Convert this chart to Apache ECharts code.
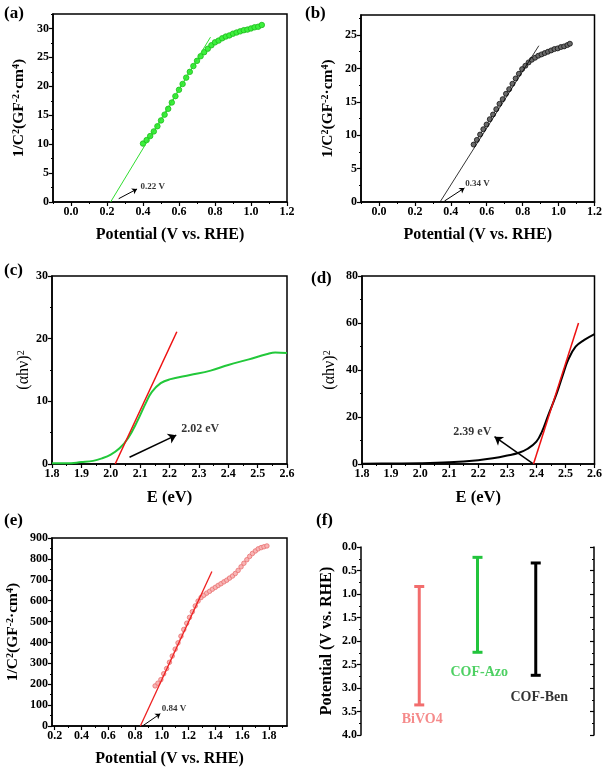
<!DOCTYPE html>
<html><head><meta charset="utf-8">
<script src="https://cdn.jsdelivr.net/npm/echarts@6/dist/echarts.min.js"></script>
<style>html,body{margin:0;padding:0;background:#fff}#c{width:605px;height:772px}</style>
</head><body><div id="c"></div>
<script>
// ---------- DATA ----------
// (a) Mott-Schottky COF-Azo
const aX = [0.40,0.42,0.44,0.46,0.48,0.50,0.52,0.54,0.56,0.58,0.60,0.62,0.64,0.66,0.68,0.70,0.72,0.74,0.76,0.78,0.80,0.82,0.84,0.86,0.88,0.90,0.92,0.94,0.96,0.98,1.00,1.02,1.04,1.06];
const aY = [10.1,10.7,11.4,12.2,13.1,14.1,15.1,16.1,17.2,18.3,19.4,20.4,21.5,22.5,23.5,24.4,25.2,25.9,26.5,27.1,27.6,27.9,28.3,28.6,28.8,29.1,29.3,29.5,29.7,29.8,30.0,30.2,30.3,30.6];
const aFitX = [0.22, 0.775];
const aFitY = [0, 28.5];
// (b) Mott-Schottky COF-Ben
const bX = [0.527,0.545,0.563,0.581,0.599,0.617,0.635,0.653,0.671,0.689,0.707,0.725,0.743,0.761,0.779,0.797,0.815,0.833,0.851,0.869,0.887,0.905,0.923,0.941,0.959,0.977,0.995,1.013,1.031,1.049,1.063];
const bY = [8.6,9.3,10.1,10.9,11.6,12.4,13.1,13.9,14.7,15.4,16.2,16.9,17.7,18.5,19.2,19.9,20.4,20.9,21.3,21.6,21.9,22.1,22.3,22.5,22.7,22.9,23.0,23.2,23.3,23.5,23.7];
const bFitX = [0.34, 0.89];
const bFitY = [0, 23.4];
// (c) Tauc COF-Azo
const cX = [1.80,1.85,1.90,1.94,1.97,2.00,2.03,2.06,2.09,2.12,2.14,2.17,2.20,2.27,2.34,2.40,2.47,2.53,2.56,2.60];
const cY = [0.1,0.1,0.3,0.5,0.9,1.5,2.5,4.2,6.8,9.8,11.5,12.9,13.5,14.2,14.9,15.8,16.7,17.5,17.8,17.7];
const cFitX = [2.015, 2.225];
const cFitY = [0, 21.1];
// (d) Tauc COF-Ben
const dX = [1.80,1.90,2.00,2.10,2.20,2.25,2.30,2.34,2.37,2.40,2.42,2.44,2.47,2.49,2.51,2.535,2.565,2.60];
const dY = [0.1,0.2,0.3,0.7,1.6,2.4,3.6,4.8,6.5,9.5,14.0,20.5,30.0,37.5,44.5,49.9,52.8,55.3];
const dFitX = [2.39, 2.545];
const dFitY = [0, 60];
// (e) Mott-Schottky BiVO4
const eX = [0.950,0.971,0.993,1.014,1.036,1.057,1.078,1.100,1.121,1.143,1.164,1.186,1.207,1.228,1.250,1.271,1.293,1.314,1.335,1.357,1.378,1.400,1.421,1.442,1.464,1.485,1.506,1.528,1.549,1.570,1.592,1.613,1.635,1.656,1.677,1.699,1.720,1.742,1.763,1.785];
const eY = [192,205,222,250,275,305,335,368,398,430,462,492,520,547,575,598,615,626,636,645,655,664,673,681,690,698,708,718,730,745,762,779,796,812,826,838,848,854,858,862];
const eFitX = [0.84, 1.374];
const eFitY = [0, 740];
// (f) band positions
const fNames = ['BiVO4', 'COF-Azo', 'COF-Ben'];
const fPos = [1, 2, 3];
const fCB = [0.84, 0.22, 0.34];
const fVB = [3.36, 2.24, 2.73];
const fLabelX = [1.05, 2.03, 3.06];
const fLabelY = [3.67, 2.67, 3.2];
// annotations
const annText = ['0.22 V', '0.34 V', '2.02 eV', '2.39 eV', '0.84 V'];
const annPos = [[0.386, 2.6], [0.481, 2.74], [2.24, 5.58], [2.245, 13.7], [1.0, 85]];
const arrowFrom = [[0.265, 0.57], [0.365, 0.15], [2.064, 1.07], [2.387, 0.3], [0.859, 1.4]];
const arrowTo = [[0.367, 2.25], [0.476, 2.1], [2.223, 4.6], [2.256, 11.6], [0.989, 59]];
// tick values
const tickXab = [0.0,0.2,0.4,0.6,0.8,1.0,1.2];
const minorXab = [-0.1,0.1,0.3,0.5,0.7,0.9,1.1];
const tickYa = [0,5,10,15,20,25,30];
const minorYa = [2.5,7.5,12.5,17.5,22.5,27.5,32.5];
const tickYb = [0,5,10,15,20,25];
const minorYb = [2.5,7.5,12.5,17.5,22.5,27.5];
const tickXcd = [1.8,1.9,2.0,2.1,2.2,2.3,2.4,2.5,2.6];
const minorXcd = [1.85,1.95,2.05,2.15,2.25,2.35,2.45,2.55];
const tickYc = [0,10,20,30];
const minorYc = [5,15,25];
const tickYd = [0,20,40,60,80];
const minorYd = [10,30,50,70];
const tickXe = [0.2,0.4,0.6,0.8,1.0,1.2,1.4,1.6,1.8];
const minorXe = [0.3,0.5,0.7,0.9,1.1,1.3,1.5,1.7,1.9];
const tickYe = [0,100,200,300,400,500,600,700,800,900];
const minorYe = [50,150,250,350,450,550,650,750,850];
const tickYf = [0.0,0.5,1.0,1.5,2.0,2.5,3.0,3.5,4.0];
const minorYf = [0.25,0.75,1.25,1.75,2.25,2.75,3.25,3.75];

// ---------- BUILD ----------
const FONT = '"Liberation Serif","Times New Roman",serif';
const zip = (xs, ys) => xs.map((x, i) => [x, ys[i]]);
const f1 = v => Number(v).toFixed(1);
const f0 = v => String(Math.round(v));

const grids = [
  {left: 53, top: 14, width: 234, height: 188},
  {left: 361, top: 15, width: 234, height: 187},
  {left: 52, top: 276, width: 235, height: 188},
  {left: 362, top: 276, width: 234, height: 188},
  {left: 52, top: 538, width: 235, height: 188},
  {left: 361, top: 547, width: 233, height: 188, show: false}
].map(g => Object.assign({show: true, borderColor: '#000', borderWidth: 1.5}, g));

const xAxes = [], yAxes = [];
function pair(list, gi, o) {
  const main = {
    gridIndex: gi, type: 'value', min: o.min, max: o.max, inverse: !!o.inverse, position: o.position,
    axisLine: {show: true, onZero: false, lineStyle: {color: '#000', width: 1.5}},
    axisTick: {show: true, inside: !!o.inside, length: 4, customValues: o.major, lineStyle: {color: '#000', width: 1.2}},
    axisLabel: {show: o.labels !== false, customValues: o.major, formatter: o.fmt, fontFamily: FONT, fontWeight: 'bold', fontSize: 12, color: '#000', margin: 4},
    splitLine: {show: false},
    name: o.name || '', nameLocation: 'middle', nameGap: o.gap || 0,
    nameTextStyle: Object.assign({fontFamily: FONT, fontWeight: 'bold', fontSize: 16, color: '#000'}, o.nameStyle || {})
  };
  const minor = {
    gridIndex: gi, type: 'value', min: o.min, max: o.max, inverse: !!o.inverse, position: o.position,
    axisLine: {show: false, onZero: false},
    axisTick: {show: true, inside: !!o.inside, length: 2, customValues: o.minor, lineStyle: {color: '#000', width: 1}},
    axisLabel: {show: false}, splitLine: {show: false}
  };
  list.push(main, minor);
}
const supRich = {sup: {fontFamily: FONT, fontWeight: 'bold', fontSize: 10, verticalAlign: 'top', color: '#000'}};
const msName = '1/C{sup|2}(GF{sup|-2}·cm{sup|4})';
const msStyle = {fontSize: 15.5, rich: supRich};
const taucName = '(αhν){sup|2}';
const taucStyle = {fontWeight: 'normal', fontSize: 16, rich: {sup: {fontFamily: FONT, fontSize: 10, verticalAlign: 'top', color: '#000'}}};

// panel a
pair(xAxes, 0, {min: -0.1, max: 1.2, major: tickXab, minor: minorXab, fmt: f1, position: 'bottom', name: 'Potential (V vs. RHE)', gap: 25});
pair(yAxes, 0, {min: 0, max: 32.5, major: tickYa, minor: minorYa, fmt: f0, position: 'left', name: msName, gap: 26, nameStyle: msStyle});
// panel b
pair(xAxes, 1, {min: -0.1, max: 1.2, major: tickXab, minor: minorXab, fmt: f1, position: 'bottom', name: 'Potential (V vs. RHE)', gap: 25});
pair(yAxes, 1, {min: 0, max: 28, major: tickYb, minor: minorYb, fmt: f0, position: 'left', name: msName, gap: 25, nameStyle: msStyle});
// panel c
pair(xAxes, 2, {min: 1.8, max: 2.6, major: tickXcd, minor: minorXcd, fmt: f1, position: 'bottom', name: 'E (eV)', gap: 25, nameStyle: {fontSize: 16.5}});
pair(yAxes, 2, {min: 0, max: 30, major: tickYc, minor: minorYc, fmt: f0, position: 'left', name: taucName, gap: 20, nameStyle: taucStyle});
// panel d
pair(xAxes, 3, {min: 1.8, max: 2.6, major: tickXcd, minor: minorXcd, fmt: f1, position: 'bottom', name: 'E (eV)', gap: 25, nameStyle: {fontSize: 16.5}});
pair(yAxes, 3, {min: 0, max: 80, major: tickYd, minor: minorYd, fmt: f0, position: 'left', name: taucName, gap: 24, nameStyle: taucStyle});
// panel e
pair(xAxes, 4, {min: 0.18, max: 1.935, major: tickXe, minor: minorXe, fmt: f1, position: 'bottom', name: 'Potential (V vs. RHE)', gap: 25});
pair(yAxes, 4, {min: 0, max: 900, major: tickYe, minor: minorYe, fmt: f0, position: 'left', name: msName, gap: 31, nameStyle: msStyle});
// panel f
xAxes.push({gridIndex: 5, type: 'value', min: 0, max: 4, show: false});
xAxes.push({gridIndex: 5, type: 'value', min: 0, max: 4, show: false});
pair(yAxes, 5, {min: 0, max: 4, inverse: true, major: tickYf, minor: minorYf, fmt: f1, position: 'left', name: 'Potential (V vs. RHE)', gap: 26});
pair(yAxes, 5, {min: 0, max: 4, inverse: true, major: tickYf, minor: minorYf, fmt: f1, position: 'right', labels: false, inside: true});

const series = [];
function ms(p, xs, ys, col, border, size, lineCol, lw) {
  series.push({type: 'line', xAxisIndex: 2 * p, yAxisIndex: 2 * p, data: zip(xs, ys), symbol: 'circle', symbolSize: size, showSymbol: true,
    itemStyle: {color: col, borderColor: border, borderWidth: 0.8}, lineStyle: {color: lineCol, width: lw}, z: 3});
}
function fit(p, xs, ys, col, w, z) {
  series.push({type: 'line', xAxisIndex: 2 * p, yAxisIndex: 2 * p, data: zip(xs, ys), symbol: 'none', lineStyle: {color: col, width: w}, z: z || 4});
}
function curve(p, xs, ys, col, w) {
  series.push({type: 'line', xAxisIndex: 2 * p, yAxisIndex: 2 * p, data: zip(xs, ys), symbol: 'none', smooth: 0.4, lineStyle: {color: col, width: w}, z: 3});
}
function ann(p, k, fs, side, aw, asz) {
  series.push({type: 'scatter', xAxisIndex: 2 * p, yAxisIndex: 2 * p, data: [annPos[k]], symbolSize: 0, silent: true,
    label: {show: true, position: side, distance: 0, formatter: annText[k], fontFamily: FONT, fontWeight: 'bold', fontSize: fs, color: '#000'},
    markLine: {silent: true, symbol: ['none', 'arrow'], symbolSize: asz, animation: false,
      lineStyle: {color: '#000', width: aw, type: 'solid'}, label: {show: false},
      data: [[{coord: arrowFrom[k]}, {coord: arrowTo[k]}]]}, z: 5});
}
// a
ms(0, aX, aY, '#3cf03c', '#1cba1c', 5.5, '#30e030', 1);
fit(0, aFitX, aFitY, '#30dd30', 1);
ann(0, 0, 9, 'right', 1, 5);
// b
ms(1, bX, bY, '#6a6a6a', '#111', 5, '#222', 0.8);
fit(1, bFitX, bFitY, '#000', 0.8);
ann(1, 1, 9, 'right', 1, 5);
// c
curve(2, cX, cY, '#22c83a', 2);
fit(2, cFitX, cFitY, '#ee1111', 1.5);
ann(2, 2, 12, 'right', 1.5, 8);
// d
curve(3, dX, dY, '#000', 2);
fit(3, dFitX, dFitY, '#ee1111', 1.5);
ann(3, 3, 12, 'left', 1.5, 8);
// e
ms(4, eX, eY, '#f8b4b4', '#e87070', 4.5, '#f0a0a0', 0.8);
fit(4, eFitX, eFitY, '#ee2020', 1.3);
ann(4, 4, 9, 'right', 1, 5);
// f
const fCol = ['#f26d6d', '#22c43c', '#000'];
fNames.forEach((n, i) => {
  series.push({type: 'line', xAxisIndex: 10, yAxisIndex: 10, data: [[fPos[i], fCB[i]], [fPos[i], fVB[i]]],
    symbol: 'rect', symbolSize: [10, 3], showSymbol: true, itemStyle: {color: fCol[i]}, lineStyle: {color: fCol[i], width: 3}});
  series.push({type: 'scatter', xAxisIndex: 10, yAxisIndex: 10, data: [[fLabelX[i], fLabelY[i]]], symbolSize: 0, silent: true,
    label: {show: true, position: 'inside', formatter: n, fontFamily: FONT, fontWeight: 'bold', fontSize: 14, color: fCol[i]}});
});

const panelLabels = [['(a)', 4, 5], ['(b)', 305, 5], ['(c)', 4, 262], ['(d)', 311, 270], ['(e)', 4, 512], ['(f)', 316, 512]];
const graphic = panelLabels.map(([t, l, tp]) => ({type: 'text', left: l, top: tp,
  style: {text: t, font: 'bold 17px ' + FONT, fill: '#000'}}));

const chart = echarts.init(document.getElementById('c'), null, {renderer: 'canvas'});
chart.setOption({animation: false, backgroundColor: '#fff', textStyle: {fontFamily: FONT},
  grid: grids, xAxis: xAxes, yAxis: yAxes, series: series, graphic: graphic});
</script></body></html>
